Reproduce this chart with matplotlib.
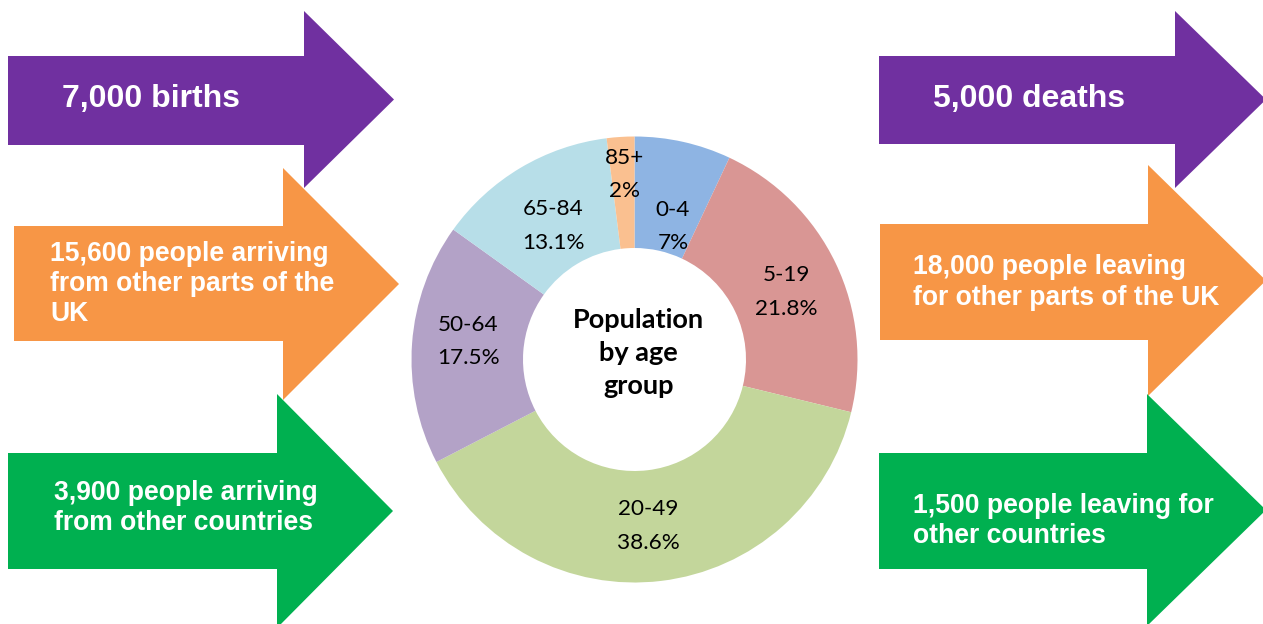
import numpy as np
import matplotlib
matplotlib.use("Agg")
import matplotlib.pyplot as plt
from matplotlib.patches import Polygon

# ---- data ----
age_groups = ["0-4", "5-19", "20-49", "50-64", "65-84", "85+"]
age_share = [7.0, 21.8, 38.6, 17.5, 13.1, 2.0]
age_share_labels = ["7%", "21.8%", "38.6%", "17.5%", "13.1%", "2%"]
centre_title = "Population\nby age\ngroup"

inflow_texts = ["7,000 births",
                "15,600 people arriving\nfrom other parts of the\nUK",
                "3,900 people arriving\nfrom other countries"]
outflow_texts = ["5,000 deaths",
                 "18,000 people leaving\nfor other parts of the UK",
                 "1,500 people leaving for\nother countries"]

# ---- style ----
slice_colors = ["#8EB4E3", "#D99694", "#C3D69B", "#B3A2C7", "#B7DEE8", "#FAC090"]
arrow_colors = ["#7030A0", "#F79646", "#00B050"]
label_radius = [0.62, 0.745, 0.75, 0.75, 0.70, 0.83]
label_angle_shift = [-3.5, -1.5, -2.0, -2.0, 0.5, -0.5]

W, H = 1263, 624
fig = plt.figure(figsize=(W / 100, H / 100), dpi=100)
ax = fig.add_axes([0, 0, 1, 1])

def Y(y):
    return H - y

# ---- donut ----
cx, cy, R = 634.5, Y(359.5), 223
wedges, _ = ax.pie(age_share, colors=slice_colors, startangle=90,
                   counterclock=False, radius=R, center=(cx, cy),
                   wedgeprops=dict(width=R * 0.5, linewidth=0))

label_font = "Lato"
for w, g, p, r, da in zip(wedges, age_groups, age_share_labels,
                          label_radius, label_angle_shift):
    mid = np.deg2rad((w.theta1 + w.theta2) / 2 + da)
    x = cx + r * R * np.cos(mid)
    y = cy + r * R * np.sin(mid)
    ax.text(x, y, f"{g}\n{p}", ha="center", va="center", fontsize=16.2,
            family=label_font, linespacing=1.85, color="black")

ax.text(cx + 4, Y(353), centre_title, ha="center", va="center",
        fontsize=19.5, fontweight="bold", family=label_font, linespacing=1.45)

# ---- arrows ----
def arrow(x0, yb0, yb1, xh, yh0, yh1, xt, color):
    yt = (yh0 + yh1) / 2
    pts = [(x0, yb0), (xh, yb0), (xh, yh0), (xt, yt),
           (xh, yh1), (xh, yb1), (x0, yb1)]
    ax.add_patch(Polygon([(px, Y(py)) for px, py in pts], closed=True,
                         facecolor=color, edgecolor="none"))

# left arrows (drawn top to bottom so lower ones overlap upper heads)
arrow(8, 56, 145, 304, 11, 188, 394, arrow_colors[0])
arrow(14, 226, 341, 283, 168, 400, 399, arrow_colors[1])
arrow(8, 453, 569, 277, 394, 628, 393, arrow_colors[2])
# right arrows
arrow(879, 56, 144, 1175, 11, 188, 1266, arrow_colors[0])
arrow(880, 224, 340, 1148, 165, 396, 1266, arrow_colors[1])
arrow(879, 453, 569, 1147, 394, 626, 1266, arrow_colors[2])

tf = "Liberation Sans"
big, small, ls = 23, 19.1, 1.22
ax.text(62, Y(99), inflow_texts[0], ha="left", va="center", color="white",
        fontsize=big, fontweight="bold", family=tf)
ax.text(50, Y(284), inflow_texts[1], ha="left", va="center", color="white",
        fontsize=small, fontweight="bold", family=tf, linespacing=ls)
ax.text(54, Y(508), inflow_texts[2], ha="left", va="center", color="white",
        fontsize=small, fontweight="bold", family=tf, linespacing=ls)

ax.text(933, Y(99), outflow_texts[0], ha="left", va="center", color="white",
        fontsize=big, fontweight="bold", family=tf)
ax.text(913, Y(282.5), outflow_texts[1], ha="left", va="center", color="white",
        fontsize=small, fontweight="bold", family=tf, linespacing=ls)
ax.text(913, Y(521), outflow_texts[2], ha="left", va="center", color="white",
        fontsize=small, fontweight="bold", family=tf, linespacing=ls)

ax.set_xlim(0, W)
ax.set_ylim(0, H)
ax.set_aspect("equal")
ax.axis("off")

fig.savefig("out.png", dpi=100, facecolor="white")
